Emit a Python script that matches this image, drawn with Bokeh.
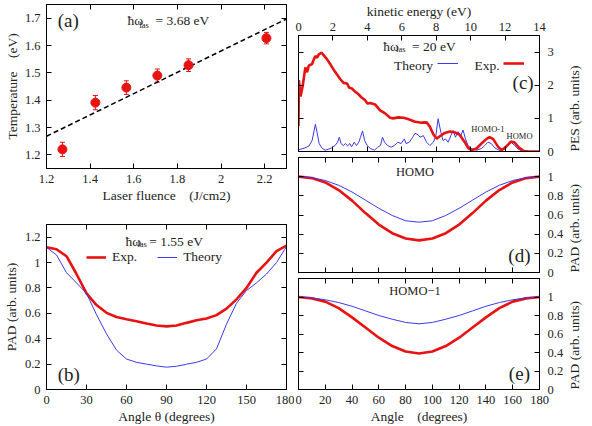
import math
from bokeh.plotting import figure
from bokeh.models import (LinearAxis, Range1d, Label, Legend, LegendItem, Whisker,
                          TeeHead, ColumnDataSource, FixedTicker, CustomJSTickFormatter)
from bokeh.layouts import row, column
from bokeh.embed import file_html
from bokeh.resources import INLINE

# ---------------- data ----------------
# (a) temperature vs laser fluence
fluence = [1.273, 1.424, 1.566, 1.708, 1.851, 2.208]
temperature = [1.220, 1.391, 1.446, 1.490, 1.528, 1.627]
temp_err = [0.026, 0.026, 0.025, 0.024, 0.023, 0.021]
fit_x = [1.2, 2.3]
fit_y = [1.268, 1.697]

# (b) PAD at 1.55 eV
b_angle = [0, 7.5, 15, 22.5, 30, 37.5, 45, 52.5, 60, 67.5, 75, 82.5, 90,
           97.5, 105, 112.5, 120, 127.5, 135, 142.5, 150, 157.5, 165, 172.5, 180]
b_exp = [1.12, 1.105, 1.05, 0.91, 0.757, 0.665, 0.604, 0.571, 0.553, 0.538, 0.52, 0.504, 0.497,
         0.504, 0.525, 0.545, 0.56, 0.586, 0.637, 0.71, 0.80, 0.92, 1.0, 1.09, 1.134]
b_theory = [1.12, 1.06, 0.92, 0.84, 0.757, 0.59, 0.438, 0.31, 0.24, 0.214, 0.20, 0.186, 0.176,
            0.183, 0.199, 0.214, 0.24, 0.32, 0.515, 0.68, 0.78, 0.84, 0.91, 1.0, 1.126]

# (c) photoelectron spectrum at 20 eV
c_exp_e = [0.00, 0.02, 0.12, 0.25, 0.40, 0.50, 0.60, 0.79, 0.89, 0.98,
           1.08, 1.18, 1.33, 1.47, 1.66, 1.85, 2.04, 2.24, 2.43, 2.62,
           2.82, 2.95, 3.10, 3.30, 3.50, 3.68, 3.87, 4.00, 4.16, 4.45,
           4.74, 5.03, 5.32, 5.50, 5.80, 6.10, 6.36, 6.77, 7.15, 7.44,
           7.63, 7.83, 8.02, 8.21, 8.50, 8.79, 9.08, 9.37, 9.66, 9.85,
           10.05, 10.34, 10.63, 10.92, 11.10, 11.30, 11.60, 11.80, 12.05, 12.34,
           12.53, 12.82, 13.10, 13.40, 14.00]
c_exp_v = [0.77, 2.15, 1.66, 2.00, 2.54, 2.39, 2.59, 2.64, 2.78, 2.88,
           2.83, 2.93, 2.98, 2.90, 2.78, 2.63, 2.47, 2.32, 2.18, 2.07,
           2.05, 1.92, 1.90, 1.80, 1.72, 1.62, 1.55, 1.45, 1.46, 1.42,
           1.24, 1.15, 1.02, 1.00, 1.03, 1.02, 0.98, 0.90, 0.87, 0.88,
           0.75, 0.52, 0.39, 0.46, 0.56, 0.60, 0.58, 0.50, 0.28, 0.11,
           0.04, 0.09, 0.24, 0.38, 0.43, 0.38, 0.14, 0.04, 0.14, 0.30,
           0.28, 0.11, 0.01, 0.00, 0.00]
c_th_e = [0.0, 0.33, 0.60, 0.79, 0.98, 1.08, 1.20, 1.35, 1.55, 1.74,
          1.93, 2.12, 2.27, 2.37, 2.47, 2.60, 2.73, 2.85, 2.99, 3.08,
          3.24, 3.37, 3.50, 3.60, 3.72, 3.84, 3.99, 4.18, 4.41, 4.60,
          4.76, 4.88, 5.00, 5.18, 5.38, 5.57, 5.76, 5.96, 6.15, 6.25,
          6.44, 6.63, 6.77, 6.96, 7.06, 7.25, 7.44, 7.63, 7.83, 7.98,
          8.11, 8.27, 8.40, 8.54, 8.69, 8.85, 8.98, 9.12, 9.27, 9.43,
          9.56, 9.70, 9.85, 10.05, 10.34, 10.63, 10.82, 11.01, 11.20, 11.40,
          11.69, 11.98, 12.18, 12.34, 12.53, 12.76, 13.05, 13.40, 14.0]
c_th_v = [0.05, 0.10, 0.16, 0.33, 0.82, 0.58, 0.24, 0.11, 0.04, 0.07,
          0.11, 0.18, 0.28, 0.43, 0.24, 0.18, 0.24, 0.17, 0.24, 0.14,
          0.28, 0.18, 0.28, 0.43, 0.62, 0.33, 0.18, 0.09, 0.04, 0.13,
          0.18, 0.43, 0.28, 0.18, 0.13, 0.18, 0.28, 0.24, 0.38, 0.24,
          0.28, 0.43, 0.55, 0.50, 0.43, 0.48, 0.28, 0.18, 0.28, 0.48,
          0.99, 0.58, 0.33, 0.38, 0.28, 0.48, 0.63, 0.43, 0.60, 0.48,
          0.65, 0.38, 0.18, 0.09, 0.04, 0.09, 0.18, 0.28, 0.24, 0.11,
          0.03, 0.07, 0.18, 0.28, 0.20, 0.07, 0.0, 0.0, 0.0]

# (d), (e) PAD of HOMO and HOMO-1
de_angle = [0, 10, 20, 30, 40, 50, 60, 70, 80, 90,
            100, 110, 120, 130, 140, 150, 160, 170, 180]
d_exp = [1.0, 0.985, 0.94, 0.86, 0.75, 0.62, 0.50, 0.41, 0.355, 0.335,
         0.355, 0.41, 0.50, 0.62, 0.75, 0.86, 0.94, 0.985, 1.0]
d_theory = [1.0, 0.99, 0.96, 0.91, 0.84, 0.755, 0.67, 0.595, 0.54, 0.525,
            0.54, 0.595, 0.67, 0.755, 0.84, 0.91, 0.96, 0.99, 1.0]
e_exp = [1.0, 0.985, 0.95, 0.88, 0.78, 0.67, 0.56, 0.47, 0.41, 0.39,
         0.41, 0.47, 0.56, 0.67, 0.78, 0.88, 0.95, 0.985, 1.0]
e_theory = [1.0, 0.99, 0.97, 0.94, 0.90, 0.85, 0.80, 0.76, 0.725, 0.71,
            0.725, 0.76, 0.80, 0.85, 0.90, 0.94, 0.97, 0.99, 1.0]

ticks_a_x = [1.2, 1.4, 1.6, 1.8, 2.0, 2.2]
ticks_a_y = [1.2, 1.3, 1.4, 1.5, 1.6, 1.7]
ticks_b_x = [0, 30, 60, 90, 120, 150, 180]
ticks_b_y = [0, 0.2, 0.4, 0.6, 0.8, 1.0, 1.2]
ticks_c_x = [0, 2, 4, 6, 8, 10, 12, 14]
ticks_c_y = [0, 1, 2, 3]
ticks_de_x = [0, 20, 40, 60, 80, 100, 120, 140, 160, 180]
ticks_de_y = [0, 0.2, 0.4, 0.6, 0.8, 1.0]

# ---------------- style ----------------
FONT = "'Liberation Serif', serif"
TXT = "#222222"
RED = "#e81212"
BLUE = "#3a3ae8"
TICK_FS = "12.5px"
LAB_FS = "13.5px"
SP = "\u00a0\u00a0\u00a0\u00a0"

FMT = CustomJSTickFormatter(code="return String(Number(tick.toFixed(3)));")
BLANK = CustomJSTickFormatter(code="return '';")


def make_fig(width, height, xr, yr, l, r, t, b, x_loc="below", y_loc="left"):
    p = figure(width=width, height=height, x_range=Range1d(*xr), y_range=Range1d(*yr),
               output_backend="svg", toolbar_location=None,
               x_axis_location=x_loc, y_axis_location=y_loc,
               min_border_left=l, min_border_right=r, min_border_top=t, min_border_bottom=b)
    p.xgrid.visible = False
    p.ygrid.visible = False
    p.outline_line_color = "black"
    p.outline_line_alpha = 1.0
    p.outline_line_width = 1
    p.background_fill_color = "white"
    p.border_fill_color = "white"
    return p


def style(ax, ticks, show=True, label=None, standoff=6, lab_standoff=5, right=False):
    ax.ticker = FixedTicker(ticks=ticks, minor_ticks=[])
    ax.major_tick_in = 5
    ax.major_tick_out = 0
    ax.minor_tick_in = 0
    ax.minor_tick_out = 0
    ax.axis_line_color = "black"
    ax.major_tick_line_color = "black"
    ax.major_label_text_font = FONT
    ax.major_label_text_color = TXT
    if show:
        ax.formatter = FMT
        ax.major_label_text_font_size = TICK_FS
        ax.major_label_standoff = standoff
    else:
        ax.formatter = BLANK
        ax.major_label_text_font_size = "0px"
        ax.major_label_standoff = 0
    if label:
        ax.axis_label = label
        ax.axis_label_text_font = FONT
        ax.axis_label_text_font_style = "normal"
        ax.axis_label_text_font_size = LAB_FS
        ax.axis_label_text_color = TXT
        ax.axis_label_standoff = lab_standoff
        if right:
            ax.axis_label_orientation = math.pi / 2
            ax.axis_label_align = "start"


def mirror(p, side, ticks):
    ax = LinearAxis()
    style(ax, ticks, show=False)
    p.add_layout(ax, side)


def label(p, x, y, text, size="13.5px", align="left"):
    p.add_layout(Label(x=x, y=y, text=text, text_font=FONT, text_font_size=size,
                       text_color=TXT, text_align=align, text_baseline="middle"))


def hw(p, x0, x1, x2, y0, y1, rest):
    label(p, x0, y0, "ħω")
    label(p, x1, y1, "las", size="8.5px")
    label(p, x2, y0, "= " + rest)


# ---------------- (a) ----------------
pa = make_fig(294, 205, (1.2, 2.3), (1.15, 1.75), 43, 8, 4, 32)
style(pa.xaxis[0], ticks_a_x, label="Laser fluence" + SP + "(J/cm2)", standoff=6, lab_standoff=2)
style(pa.yaxis[0], ticks_a_y, label="Temperature" + SP + "(eV)", standoff=6, lab_standoff=2)
mirror(pa, "above", ticks_a_x)
mirror(pa, "right", ticks_a_y)
pa.line(fit_x, fit_y, line_color="black", line_width=1.5, line_dash="5 3")
src_a = ColumnDataSource(dict(x=fluence, y=temperature,
                              lo=[t - e for t, e in zip(temperature, temp_err)],
                              hi=[t + e for t, e in zip(temperature, temp_err)]))
pa.add_layout(Whisker(base="x", lower="lo", upper="hi", source=src_a, line_color=RED, line_width=1,
                      upper_head=TeeHead(size=5, line_color=RED, line_width=1),
                      lower_head=TeeHead(size=5, line_color=RED, line_width=1)))
pa.scatter("x", "y", source=src_a, size=9, color=RED)
label(pa, 1.30, 1.69, "(a)", size="19px", align="center")
hw(pa, 1.571, 1.626, 1.700, 1.693, 1.676, "3.68 eV")

# ---------------- (b) ----------------
pb = make_fig(294, 221, (0, 180), (0, 1.3), 43, 8, 19, 32)
style(pb.xaxis[0], ticks_b_x, label="Angle θ (degrees)", standoff=6, lab_standoff=2)
style(pb.yaxis[0], ticks_b_y, label="PAD (arb. units)", standoff=6, lab_standoff=3)
mirror(pb, "above", ticks_b_x)
mirror(pb, "right", ticks_b_y)
rb_exp = pb.line(b_angle, b_exp, line_color=RED, line_width=2.6)
rb_th = pb.line(b_angle, b_theory, line_color=BLUE, line_width=1)
pb.add_layout(Legend(items=[LegendItem(label="Exp.", renderers=[rb_exp]),
                            LegendItem(label="Theory", renderers=[rb_th])],
                     orientation="horizontal", location=(40, 124),
                     background_fill_alpha=0, border_line_alpha=0, padding=0, margin=0,
                     spacing=20, label_standoff=6, glyph_width=20, glyph_height=12,
                     label_height=12, label_text_font=FONT, label_text_font_size=LAB_FS,
                     label_text_color=TXT))
label(pb, 16.7, 0.122, "(b)", size="19px", align="center")
hw(pb, 59.3, 68.2, 77.0, 1.170, 1.150, "1.55 eV")

# ---------------- (c) ----------------
pc = make_fig(298, 157, (0, 14), (0, 3.5), 4, 52, 32, 6, x_loc="above", y_loc="right")
style(pc.xaxis[0], ticks_c_x, label="kinetic energy (eV)", standoff=5, lab_standoff=1)
style(pc.yaxis[0], ticks_c_y, label="PES (arb. units)", standoff=8, lab_standoff=18, right=True)
mirror(pc, "below", ticks_c_x)
mirror(pc, "left", ticks_c_y)
rc_th = pc.line(c_th_e, c_th_v, line_color=BLUE, line_width=1)
rc_exp = pc.line(c_exp_e, c_exp_v, line_color=RED, line_width=2.6)
for rend, xloc in ((rc_th, 139), (rc_exp, 205)):
    pc.add_layout(Legend(items=[LegendItem(label="", renderers=[rend])],
                         location=(xloc, 82), background_fill_alpha=0, border_line_alpha=0,
                         padding=0, margin=0, label_standoff=0, label_width=0,
                         glyph_width=21, glyph_height=12, label_text_font_size="0px"))
label(pc, 7.81, 2.588, "Theory", align="right")
label(pc, 11.69, 2.588, "Exp.", align="right")
hw(pc, 4.92, 5.67, 6.60, 3.176, 3.09, "20 eV")
label(pc, 13.05, 2.09, "(c)", size="19px", align="center")
label(pc, 11.0, 0.68, "HOMO-1", size="8.5px", align="center")
label(pc, 12.84, 0.47, "HOMO", size="8.5px", align="center")

# ---------------- (d) ----------------
pd_ = make_fig(298, 121, (0, 180), (0, 1.2), 4, 52, 0, 6, y_loc="right")
pd_.xaxis[0].visible = False
style(pd_.yaxis[0], ticks_de_y, label="PAD (arb. units)", standoff=8, lab_standoff=8, right=True)
mirror(pd_, "below", ticks_de_x)
mirror(pd_, "above", ticks_de_x)
mirror(pd_, "left", ticks_de_y)
pd_.line(de_angle, d_exp, line_color=RED, line_width=2.6)
pd_.line(de_angle, d_theory, line_color=BLUE, line_width=1)
label(pd_, 87, 1.047, "HOMO", size="12.5px", align="center")
label(pd_, 165, 0.18, "(d)", size="19px", align="center")

# ---------------- (e) ----------------
pe = make_fig(298, 148, (0, 180), (0, 1.2), 4, 52, 0, 32, y_loc="right")
style(pe.xaxis[0], ticks_de_x, label="Angle" + SP + "(degrees)", standoff=6, lab_standoff=2)
style(pe.yaxis[0], ticks_de_y, label="PAD (arb. units)", standoff=8, lab_standoff=8, right=True)
mirror(pe, "above", ticks_de_x)
mirror(pe, "left", ticks_de_y)
pe.line(de_angle, e_exp, line_color=RED, line_width=2.6)
pe.line(de_angle, e_theory, line_color=BLUE, line_width=1)
label(pe, 87, 1.07, "HOMO−1", size="12.5px", align="center")
label(pe, 165, 0.17, "(e)", size="19px", align="center")

layout = row(column(pa, pb), column(pc, pd_, pe))
open("out.html", "w").write(file_html(layout, INLINE))
